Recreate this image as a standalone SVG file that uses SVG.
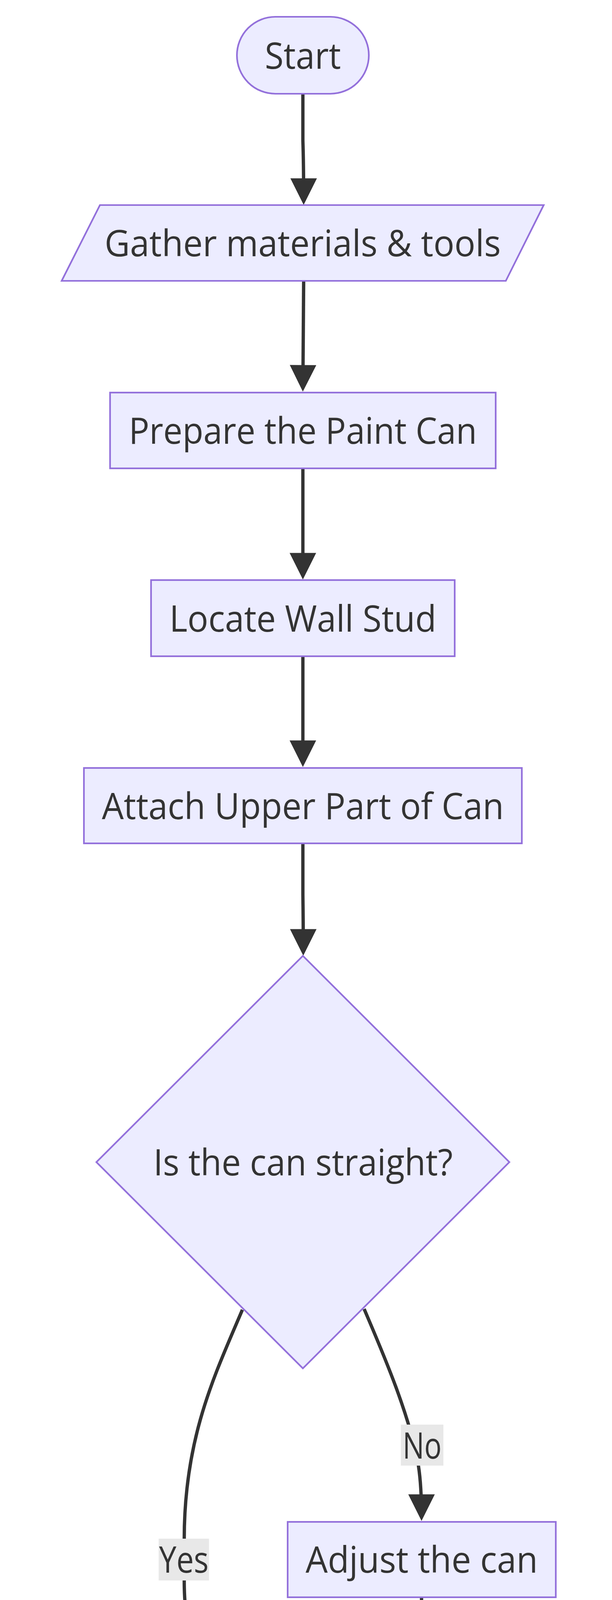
<svg xmlns="http://www.w3.org/2000/svg" width="1568" height="6604" viewBox="0 0 1568 6604">
<style>
.node{fill:#ECECFF;stroke:#9370DB;stroke-width:4.24}
.lbl{font-family:"Open Sans","Liberation Sans",sans-serif;font-size:94px;fill:#333333;text-anchor:middle}
.edge{fill:none;stroke:#333333;stroke-width:8.5}
.ebg{fill:#e8e8e8}
</style>
<defs>
<marker id="arrow" viewBox="0 0 10 10" refX="8.6" refY="5" markerUnits="userSpaceOnUse" markerWidth="70" markerHeight="68" orient="auto">
<path d="M0,0 L10,5 L0,10 z" fill="#333333"/>
</marker>
</defs>
<rect width="1568" height="6604" fill="#ffffff"/>
<g id="edges">
<path class="edge" marker-end="url(#arrow)" d="M776,241 L776,360 Q778,420 778,515"/>
<path class="edge" marker-end="url(#arrow)" d="M778,720 L776,993"/>
<path class="edge" marker-end="url(#arrow)" d="M776,1200 L776,1474"/>
<path class="edge" marker-end="url(#arrow)" d="M776,1681 L776,1954"/>
<path class="edge" marker-end="url(#arrow)" d="M776,2160 L776,2290 Q777,2360 777,2437"/>
<path class="edge" marker-end="url(#arrow)" d="M621,3353 C550,3520 472,3680 472,3940 L472,4046 C472,4220 520,4280 640,4369"/>
<path class="edge" marker-end="url(#arrow)" d="M933,3351 C975,3450 1050,3620 1072,3752 C1078,3790 1080,3830 1080,3884"/>
<path class="edge" marker-end="url(#arrow)" d="M1080,4090 L1080,4150 C1080,4240 1025,4288 910,4369"/>
<path class="edge" marker-end="url(#arrow)" d="M776,4570 L776,4845"/>
<path class="edge" marker-end="url(#arrow)" d="M776,5051 L776,5186 Q778,5250 778,5325"/>
<path class="edge" marker-end="url(#arrow)" d="M778,5531 L776,5804"/>
<path class="edge" marker-end="url(#arrow)" d="M776,6010 L776,6286"/>
</g>
<g id="edge-labels">
<g id="label-yes"><rect class="ebg" x="406.5" y="3939" width="129" height="107"/><text class="lbl" x="471" y="4026" textLength="127" lengthAdjust="spacingAndGlyphs">Yes</text></g>
<g id="label-no"><rect class="ebg" x="1027" y="3647" width="109" height="105"/><text class="lbl" x="1081.5" y="3734" textLength="100" lengthAdjust="spacingAndGlyphs">No</text></g>
</g>
<g id="node-start"><rect class="node" x="607" y="43" width="338" height="197" rx="98.5" ry="98.5"/><text class="lbl" x="776" y="176" textLength="195" lengthAdjust="spacingAndGlyphs">Start</text></g>
<g id="node-gather"><polygon class="node" points="256,525 1393,525 1296,719 158,719"/><text class="lbl" x="775.5" y="656" textLength="1015" lengthAdjust="spacingAndGlyphs">Gather materials &amp; tools</text></g>
<g id="node-prepare"><rect class="node" x="282" y="1005" width="988" height="194"/><text class="lbl" x="776" y="1136" textLength="892" lengthAdjust="spacingAndGlyphs">Prepare the Paint Can</text></g>
<g id="node-locate"><rect class="node" x="387" y="1485" width="778" height="195"/><text class="lbl" x="776" y="1617" textLength="684" lengthAdjust="spacingAndGlyphs">Locate Wall Stud</text></g>
<g id="node-upper"><rect class="node" x="215" y="1966" width="1122" height="193"/><text class="lbl" x="776" y="2097" textLength="1030" lengthAdjust="spacingAndGlyphs">Attach Upper Part of Can</text></g>
<g id="node-decision"><polygon class="node" points="776,2447 1305,2975 776,3503 247,2975"/><text class="lbl" x="776.5" y="3009" textLength="767" lengthAdjust="spacingAndGlyphs">Is the can straight?</text></g>
<g id="node-adjust"><rect class="node" x="737" y="3896" width="687" height="193"/><text class="lbl" x="1080.5" y="4026" textLength="595" lengthAdjust="spacingAndGlyphs">Adjust the can</text></g>
<g id="node-lower"><rect class="node" x="215" y="4377" width="1122" height="192"/><text class="lbl" x="776" y="4507" textLength="1030" lengthAdjust="spacingAndGlyphs">Attach Lower Part of Can</text></g>
<g id="node-secure"><rect class="node" x="422" y="4856" width="708" height="194"/><text class="lbl" x="776" y="4987" textLength="615" lengthAdjust="spacingAndGlyphs">Secure the Can</text></g>
<g id="node-finished"><polygon class="node" points="143,5336 1507,5336 1410,5530 45,5530"/><text class="lbl" x="776" y="5467" textLength="1242" lengthAdjust="spacingAndGlyphs">Finished wall-mounted hanger</text></g>
<g id="node-utilize"><rect class="node" x="438" y="5815" width="675" height="194"/><text class="lbl" x="775.5" y="5946" textLength="585" lengthAdjust="spacingAndGlyphs">Utilize Hanger</text></g>
<g id="node-end"><rect class="node" x="632" y="6296" width="288" height="196" rx="98" ry="98"/><text class="lbl" x="776" y="6428" textLength="140" lengthAdjust="spacingAndGlyphs">End</text></g>
</svg>
